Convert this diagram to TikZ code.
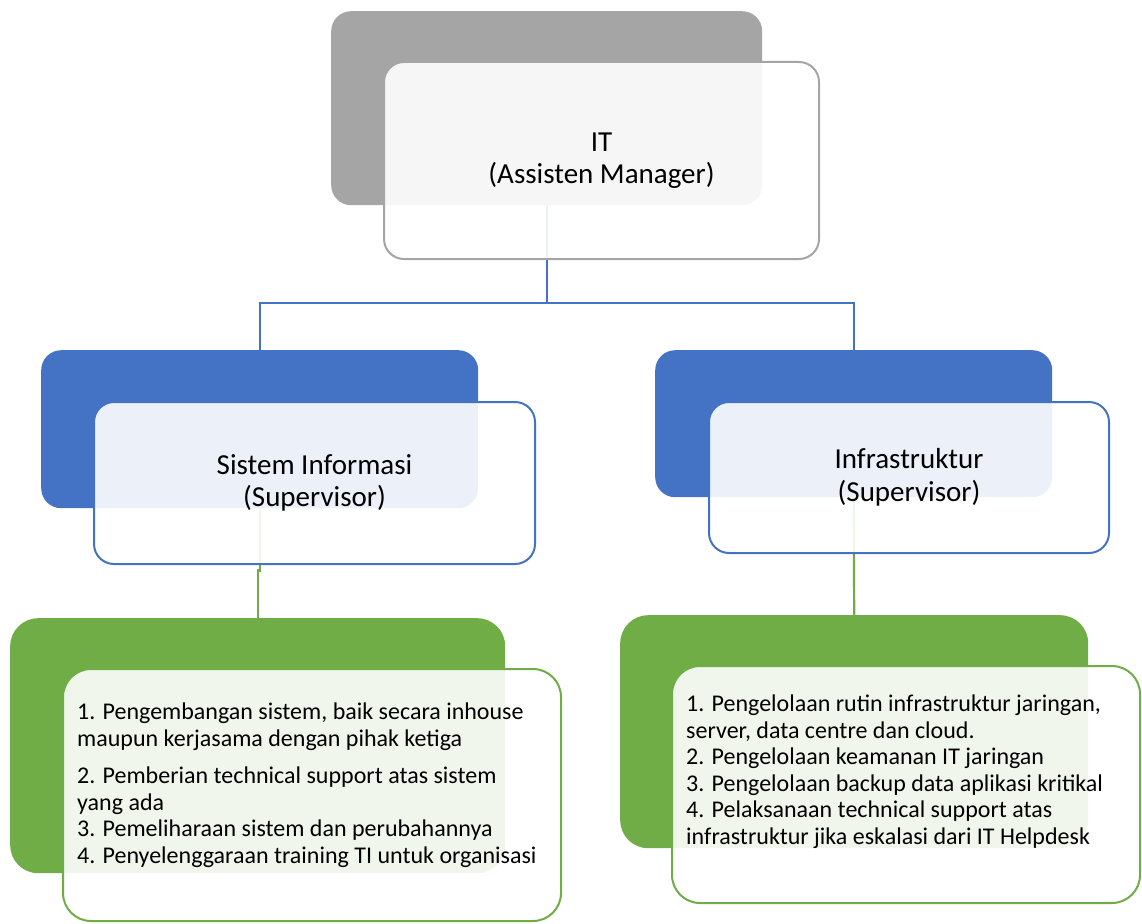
\documentclass[tikz,border=0pt]{standalone}
\usepackage{fontspec}
\setmainfont{Carlito}
\definecolor{hdgray}{HTML}{A5A5A5}
\definecolor{hdblue}{HTML}{4472C4}
\definecolor{hdgreen}{HTML}{70AD47}
\begin{document}
\begin{tikzpicture}[x=1pt,y=-1pt,
  backbox/.style={rectangle,rounded corners=20pt,draw=none,anchor=north west,inner sep=0pt},
  frontbox/.style={rectangle,rounded corners=20pt,line width=2pt,fill=white,fill opacity=0.9,text opacity=1,anchor=north west,inner sep=0pt},
  headtext/.style={align=center,font=\fontsize{29}{32.5}\selectfont,text=black},
  listtext/.style={align=left,anchor=north west,inner sep=0pt,font=\fontsize{24}{26.5}\selectfont,text=black},
  conn/.style={line width=2.2pt}]
\useasboundingbox (0,0) rectangle (1142,923);

% back boxes
\node[backbox,fill=hdgray,minimum width=431pt,minimum height=194pt] (itback) at (331,11) {};
\node[backbox,fill=hdblue,minimum width=437pt,minimum height=158pt] (siback) at (41,350) {};
\node[backbox,fill=hdblue,minimum width=397pt,minimum height=147pt] (inback) at (655,350) {};
\node[backbox,fill=hdgreen,rounded corners=28pt,minimum width=495pt,minimum height=255pt] (sgback) at (10,618) {};
\node[backbox,fill=hdgreen,rounded corners=28pt,minimum width=468pt,minimum height=233pt] (igback) at (620,615) {};

% connectors
\coordinate (bus) at (0,303);
\draw[conn,hdblue] (itback.south) -- (itback.south |- bus) -| (siback.north);
\draw[conn,hdblue] (itback.south |- bus) -| (inback.north);
\draw[conn,hdgreen] (siback.south) -- ++(0,62) -| (sgback.north);
\draw[conn,hdgreen] (inback.south) -- (igback.north);

% front boxes
\node[frontbox,draw=hdgray,minimum width=435pt,minimum height=197pt,headtext] (itfront) at (383,61) {IT\\(Assisten Manager)};
\node[frontbox,draw=hdblue,minimum width=441pt,minimum height=162pt,headtext] (sifront) at (93,401) {Sistem Informasi\\(Supervisor)};
\node[frontbox,draw=hdblue,minimum width=400pt,minimum height=151pt,headtext] (infront) at (708,401) {Infrastruktur\\(Supervisor)};
\node[frontbox,draw=hdgreen,rounded corners=28pt,minimum width=498pt,minimum height=252pt] (sgfront) at (62,668) {};
\node[frontbox,draw=hdgreen,rounded corners=28pt,minimum width=468pt,minimum height=237pt] (igfront) at (671,665) {};

% task lists
\node[listtext] (sglist) at (77,703) {1. Pengembangan sistem, baik secara inhouse\\
maupun kerjasama dengan pihak ketiga\\[11pt]
2. Pemberian technical support atas sistem\\
yang ada\\
3. Pemeliharaan sistem dan perubahannya\\
4. Penyelenggaraan training TI untuk organisasi};
\node[listtext] (iglist) at (686,695) {1. Pengelolaan rutin infrastruktur jaringan,\\
server, data centre dan cloud.\\
2. Pengelolaan keamanan IT jaringan\\
3. Pengelolaan backup data aplikasi kritikal\\
4. Pelaksanaan technical support atas\\
infrastruktur jika eskalasi dari IT Helpdesk};
\end{tikzpicture}
\end{document}
